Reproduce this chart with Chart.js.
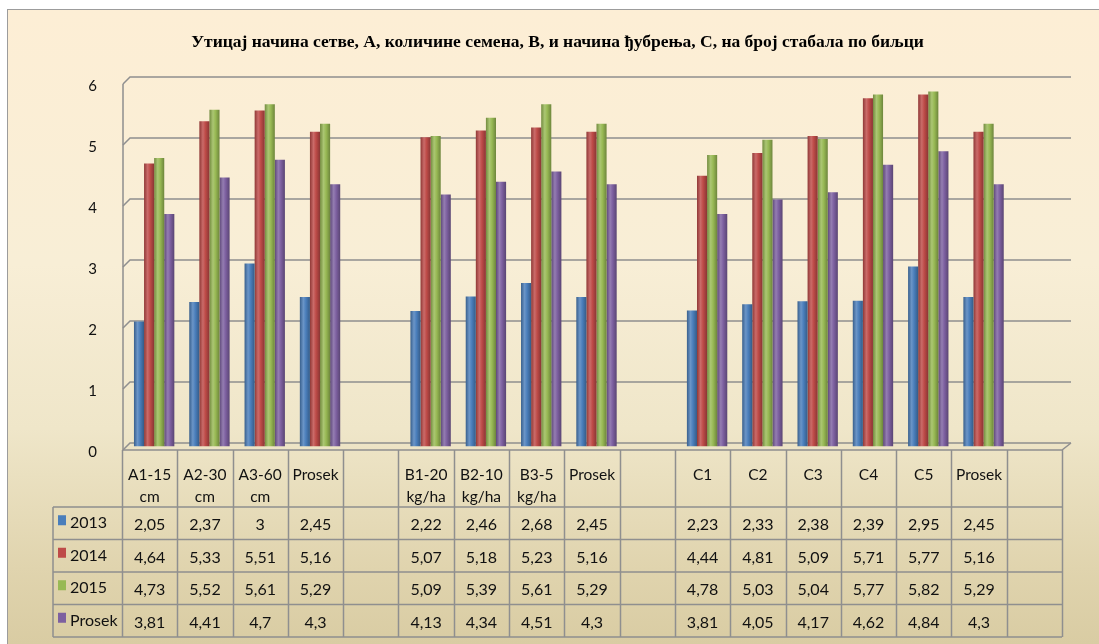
<!DOCTYPE html>
<html>
<head>
<meta charset="utf-8">
<title>Broj stabala po biljci</title>
<script src="https://cdn.jsdelivr.net/npm/chart.js@4.4.1/dist/chart.umd.min.js"></script>
<style>
  html, body { margin: 0; padding: 0; background: #fff; }
  #frame {
    position: absolute; left: 7px; top: 9px; width: 1092px; height: 635px;
    box-sizing: border-box;
    border-left: 1px solid #9c9c9c; border-top: 1px solid #9c9c9c;
    background: linear-gradient(180deg, #fdeed5 0%, #f8eed6 40%, #efe6c9 66%, #e0d4ae 88%, #d9cca3 100%);
  }
  #wrap { position: absolute; left: 0; top: 0; width: 1099px; height: 644px; }
</style>
</head>
<body>
<div id="frame"></div>
<div id="wrap"><canvas id="stabla" width="1099" height="644"></canvas></div>
<script>
const categories = [['A1-15', 'cm'], ['A2-30', 'cm'], ['A3-60', 'cm'], 'Prosek', '',
  ['B1-20', 'kg/ha'], ['B2-10', 'kg/ha'], ['B3-5', 'kg/ha'], 'Prosek', '',
  'C1', 'C2', 'C3', 'C4', 'C5', 'Prosek', ''];
const seriesNames = ['2013', '2014', '2015', 'Prosek'];
const v2013   = [2.05, 2.37, 3,    2.45, null, 2.22, 2.46, 2.68, 2.45, null, 2.23, 2.33, 2.38, 2.39, 2.95, 2.45, null];
const v2014   = [4.64, 5.33, 5.51, 5.16, null, 5.07, 5.18, 5.23, 5.16, null, 4.44, 4.81, 5.09, 5.71, 5.77, 5.16, null];
const v2015   = [4.73, 5.52, 5.61, 5.29, null, 5.09, 5.39, 5.61, 5.29, null, 4.78, 5.03, 5.04, 5.77, 5.82, 5.29, null];
const vProsek = [3.81, 4.41, 4.7,  4.3,  null, 4.13, 4.34, 4.51, 4.3,  null, 3.81, 4.05, 4.17, 4.62, 4.84, 4.3,  null];
const yTicks = [0, 1, 2, 3, 4, 5, 6];

const seriesValues = [v2013, v2014, v2015, vProsek];
const seriesColors = ['#4A7EBB', '#BE4B48', '#98B954', '#7D60A0'];
const catPct = 0.73;
const lineGrey = '#8f8f8f';
const txtFont = '16px Lato';

// mix a hex colour with black (f<1) or white (f>1)
function shade(hex, f) {
  let r = parseInt(hex.substr(1, 2), 16), g = parseInt(hex.substr(3, 2), 16), b = parseInt(hex.substr(5, 2), 16);
  if (f < 1) { r *= f; g *= f; b *= f; }
  else { const t = f - 1; r += (255 - r) * t; g += (255 - g) * t; b += (255 - b) * t; }
  return 'rgb(' + Math.round(r) + ',' + Math.round(g) + ',' + Math.round(b) + ')';
}

// cylinder look: darker edges, light stripe near the middle
function cylinder(c) {
  const base = seriesColors[c.datasetIndex];
  const x = c.chart.scales.x;
  if (!x || c.dataIndex === undefined || !x.width) return base;
  const catW = x.width / categories.length;
  const w = catW * catPct / 4;
  const left = x.getPixelForValue(c.dataIndex) - catW * catPct / 2 + c.datasetIndex * w;
  if (!isFinite(left) || !isFinite(w) || w <= 0) return base;
  const g = c.chart.ctx.createLinearGradient(left, 0, left + w, 0);
  g.addColorStop(0, shade(base, 0.75));
  g.addColorStop(0.35, shade(base, 1.18));
  g.addColorStop(0.6, base);
  g.addColorStop(1, shade(base, 0.72));
  return g;
}

const fmt = v => (v === null ? '' : String(v).replace('.', ','));

// back wall + floor drawn like the 3D frame, bars shifted into the depth
const wallPlugin = {
  id: 'wall',
  beforeDatasetsDraw(chart) {
    const { ctx, chartArea: a, scales: { y } } = chart;
    const d = 3.5, dx = 8;
    ctx.save();
    ctx.strokeStyle = lineGrey;
    ctx.lineWidth = 1.5;
    yTicks.forEach(t => {
      const py = y.getPixelForValue(t);
      ctx.beginPath();
      ctx.moveTo(a.left + 1, py + d);
      ctx.lineTo(a.left + dx, py - d);
      ctx.lineTo(a.right + dx + 1, py - d);
      ctx.stroke();
    });
    const top = y.getPixelForValue(yTicks[yTicks.length - 1]), y0 = y.getPixelForValue(0);
    ctx.beginPath();
    ctx.moveTo(a.left + 1, top + d);
    ctx.lineTo(a.left + 1, y0 + d);
    ctx.lineTo(a.right, y0 + d);
    ctx.lineTo(a.right + dx + 1, y0 - d);
    ctx.stroke();
    ctx.restore();
    ctx.save();
    ctx.translate(4.5, 0);
  },
  afterDatasetsDraw(chart) {
    chart.ctx.restore();
  }
};

// data table under the axis
const tablePlugin = {
  id: 'dataTable',
  afterDraw(chart) {
    const { ctx, chartArea: a, scales: { x, y } } = chart;
    const catW = (a.right - a.left) / categories.length;
    const floorY = y.getPixelForValue(0) + 3.5;
    const headBottom = x.bottom;
    const rowH = 32.5;
    const tabLeft = 53;
    const tabBottom = headBottom + rowH * seriesNames.length;
    ctx.save();
    ctx.strokeStyle = lineGrey;
    ctx.lineWidth = 1.5;
    ctx.beginPath();
    for (let i = 0; i <= categories.length; i++) {
      const px = Math.round(a.left + i * catW) + 0.5;
      ctx.moveTo(px, floorY);
      ctx.lineTo(px, tabBottom);
    }
    ctx.moveTo(tabLeft, headBottom);
    ctx.lineTo(tabLeft, tabBottom);
    for (let r = 0; r <= seriesNames.length; r++) {
      const py = headBottom + r * rowH;
      ctx.moveTo(tabLeft, py);
      ctx.lineTo(a.right, py);
    }
    ctx.stroke();

    ctx.font = txtFont;
    ctx.textBaseline = 'middle';
    seriesNames.forEach((name, r) => {
      const cy = headBottom + r * rowH + rowH / 2;
      ctx.fillStyle = seriesColors[r];
      ctx.fillRect(58, cy - 8, 8, 10);
      ctx.fillStyle = '#111';
      ctx.textAlign = 'left';
      ctx.fillText(name, 70, cy);
      ctx.textAlign = 'center';
      seriesValues[r].forEach((v, i) => {
        ctx.fillText(fmt(v), a.left + (i + 0.5) * catW, cy + 2);
      });
    });
    ctx.restore();
  }
};

const ctx = document.getElementById('stabla').getContext('2d');
const chart = new Chart(ctx, {
  type: 'bar',
  data: {
    labels: categories,
    datasets: seriesNames.map((name, i) => ({
      label: name,
      data: seriesValues[i],
      backgroundColor: cylinder,
      borderWidth: 0,
      barPercentage: 1,
      categoryPercentage: catPct
    }))
  },
  options: {
    responsive: false,
    animation: false,
    layout: { padding: { top: 0, left: 53, right: 37, bottom: 137 } },
    plugins: {
      legend: { display: false },
      tooltip: { enabled: false },
      title: {
        display: true,
        text: 'Утицај начина сетве, А, количине семена, В, и начина ђубрења, С, на број стабала по биљци',
        color: '#000',
        font: { family: 'Liberation Serif', size: 17.5, weight: 'bold', lineHeight: 1.2 },
        padding: { top: 32, bottom: 27.5 }
      }
    },
    scales: {
      x: {
        grid: { display: false, drawTicks: false },
        border: { display: false },
        ticks: {
          autoSkip: false, maxRotation: 0, padding: 17,
          color: '#111',
          font: { family: 'Lato', size: 15.5, lineHeight: 1.42 }
        },
        afterFit(scale) { scale.height = 60.5; }
      },
      y: {
        min: 0, max: 6,
        grid: { display: false },
        border: { display: false },
        ticks: {
          stepSize: 1, padding: 17, labelOffset: 6,
          color: '#111',
          font: { family: 'Lato', size: 15 }
        },
        afterFit(scale) { scale.width = 69; }
      }
    }
  },
  plugins: [wallPlugin, tablePlugin]
});
</script>
</body>
</html>
